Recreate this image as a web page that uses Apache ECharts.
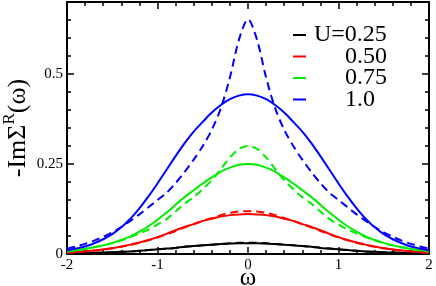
<!DOCTYPE html>
<html>
<head>
<meta charset="utf-8">
<script src="https://cdn.jsdelivr.net/npm/echarts@6/dist/echarts.min.js"></script>
<style>
html,body{margin:0;padding:0;background:#fff;}
#chart{width:436px;height:286px;}
</style>
</head>
<body>
<div id="chart"></div>
<script>
// omega grid, -2 .. 2 step 0.1
const omega = [-2.0,-1.9,-1.8,-1.7,-1.6,-1.5,-1.4,-1.3,-1.2,-1.1,-1.0,-0.9,-0.8,-0.7,-0.6,-0.5,-0.4,-0.3,-0.2,-0.1,0.0,
  0.1,0.2,0.3,0.4,0.5,0.6,0.7,0.8,0.9,1.0,1.1,1.2,1.3,1.4,1.5,1.6,1.7,1.8,1.9,2.0];

const legendNames = ['U=0.25', '0.50', '0.75', '1.0'];
const seriesColors = ['#000000', '#ff0000', '#00ee00', '#0000ff'];

// solid curves
const u025Solid = [0.001,0.002,0.002,0.003,0.004,0.005,0.006,0.007,0.009,0.011,0.013,0.015,0.017,0.020,0.022,0.024,0.026,0.028,0.029,0.030,0.030,
  0.030,0.029,0.028,0.026,0.024,0.022,0.020,0.017,0.015,0.013,0.011,0.009,0.007,0.006,0.005,0.004,0.003,0.002,0.002,0.001];
const u050Solid = [0.004,0.006,0.008,0.010,0.013,0.016,0.021,0.026,0.032,0.039,0.047,0.056,0.066,0.075,0.083,0.092,0.098,0.104,0.108,0.110,0.111,
  0.110,0.108,0.104,0.098,0.092,0.083,0.075,0.066,0.056,0.047,0.039,0.032,0.026,0.021,0.016,0.013,0.010,0.008,0.006,0.004];
const u075Solid = [0.008,0.011,0.014,0.019,0.024,0.031,0.039,0.049,0.062,0.077,0.095,0.115,0.137,0.158,0.177,0.196,0.213,0.229,0.240,0.248,0.250,
  0.248,0.240,0.229,0.213,0.196,0.177,0.158,0.137,0.115,0.095,0.077,0.062,0.049,0.039,0.031,0.024,0.019,0.014,0.011,0.008];
const u100Solid = [0.010,0.015,0.021,0.030,0.041,0.055,0.074,0.098,0.127,0.160,0.196,0.234,0.272,0.308,0.340,0.367,0.393,0.414,0.430,0.440,0.444,
  0.440,0.430,0.414,0.393,0.367,0.340,0.308,0.272,0.234,0.196,0.160,0.127,0.098,0.074,0.055,0.041,0.030,0.021,0.015,0.010];

// dashed curves
const u025Dashed = [0.001,0.002,0.002,0.003,0.004,0.005,0.006,0.007,0.009,0.011,0.013,0.015,0.017,0.020,0.022,0.024,0.026,0.028,0.030,0.031,0.031,
  0.031,0.030,0.028,0.026,0.024,0.022,0.020,0.017,0.015,0.013,0.011,0.009,0.007,0.006,0.005,0.004,0.003,0.002,0.002,0.001];
const u050Dashed = [0.004,0.005,0.007,0.009,0.012,0.016,0.020,0.025,0.031,0.038,0.046,0.055,0.064,0.074,0.083,0.092,0.100,0.108,0.114,0.118,0.119,
  0.118,0.114,0.108,0.100,0.092,0.083,0.074,0.064,0.055,0.046,0.038,0.031,0.025,0.020,0.016,0.012,0.009,0.007,0.005,0.004];
const u075Dashed = [0.007,0.010,0.014,0.019,0.024,0.030,0.038,0.047,0.057,0.068,0.082,0.097,0.118,0.140,0.158,0.180,0.205,0.236,0.268,0.292,0.300,
  0.292,0.268,0.236,0.205,0.180,0.158,0.140,0.118,0.097,0.082,0.068,0.057,0.047,0.038,0.030,0.024,0.019,0.014,0.010,0.007];
const u100Dashed = [0.015,0.021,0.028,0.037,0.048,0.060,0.075,0.092,0.110,0.130,0.150,0.170,0.197,0.228,0.262,0.300,0.345,0.405,0.490,0.595,0.652,
  0.595,0.490,0.405,0.345,0.300,0.262,0.228,0.197,0.170,0.150,0.130,0.110,0.092,0.075,0.060,0.048,0.037,0.028,0.021,0.015];

const xTicks = [-2, -1, 0, 1, 2];
const yTicks = [0, 0.25, 0.5];

const FONT = "'Liberation Serif', 'Times New Roman', serif";
const solids = [u025Solid, u050Solid, u075Solid, u100Solid];
const dashes = [u025Dashed, u050Dashed, u075Dashed, u100Dashed];
const pairs = ys => omega.map((x, i) => [x, ys[i]]);

const series = [];
for (let k = 0; k < 4; k++) {
  series.push({
    name: legendNames[k], type: 'line', data: pairs(solids[k]), smooth: 0.3,
    showSymbol: false, symbol: 'none', color: seriesColors[k],
    lineStyle: {color: seriesColors[k], width: 2}, z: 3
  });
  series.push({
    name: legendNames[k] + ' dashed', type: 'line', data: pairs(dashes[k]), smooth: 0.3,
    showSymbol: false, symbol: 'none', color: seriesColors[k],
    lineStyle: {color: seriesColors[k], width: 2, type: [8, 5]}, z: 3
  });
}

const axLine = {show: true, onZero: false, lineStyle: {color: '#000', width: 2}};
const baseX = {
  type: 'value', min: -2, max: 2, interval: 1,
  axisLine: axLine, splitLine: {show: false},
  axisTick: {show: true, inside: true, length: 7, lineStyle: {color: '#000', width: 1.5}},
  minorTick: {show: true, splitNumber: 5, length: 4, lineStyle: {color: '#000', width: 1.5}},
  minorSplitLine: {show: false}
};
const baseYMajor = {
  type: 'value', min: 0, max: 0.7, interval: 0.25,
  axisLine: axLine, splitLine: {show: false},
  axisTick: {show: true, inside: true, length: 7, lineStyle: {color: '#000', width: 1.5}}
};
const baseYMinor = {
  type: 'value', min: 0, max: 0.7, interval: 0.05,
  axisLine: {show: false, onZero: false}, splitLine: {show: false},
  axisTick: {show: true, inside: true, length: 4, lineStyle: {color: '#000', width: 1.5}},
  axisLabel: {show: false}
};

const chart = echarts.init(document.getElementById('chart'), null, {renderer: 'canvas'});
chart.setOption({
  animation: false,
  backgroundColor: '#fff',
  grid: {left: 67, right: 7, top: 2, bottom: 32, containLabel: false, outerBoundsMode: 'none'},
  legend: {
    orient: 'vertical', left: 293, top: 23, itemWidth: 13, itemHeight: 2, itemGap: -2.5, padding: 0,
    icon: 'rect', selectedMode: false, data: legendNames,
    formatter: n => n.startsWith('U') ? n : '{pad|}' + n,
    textStyle: {fontFamily: FONT, fontSize: 24, lineHeight: 21, color: '#000', padding: [0, 0, 0, 3],
      rich: {pad: {width: 31, fontSize: 24, lineHeight: 21}}}
  },
  xAxis: [
    Object.assign({}, baseX, {
      position: 'bottom', name: 'ω', nameLocation: 'middle', nameGap: 12, nameMoveOverlap: false,
      nameTextStyle: {fontFamily: FONT, fontSize: 25, color: '#000', lineHeight: 25},
      axisLabel: {show: true, fontFamily: FONT, fontSize: 15, color: '#000', margin: 4,
        formatter: v => xTicks.includes(v) ? String(v) : ''}
    }),
    Object.assign({}, baseX, {position: 'top', axisLabel: {show: false}})
  ],
  yAxis: [
    Object.assign({}, baseYMajor, {
      position: 'left', name: '{m|-ImΣ}{sup|R}{m|(ω)}', nameLocation: 'middle', nameRotate: 90, nameGap: 36,
      nameMoveOverlap: false,
      nameTextStyle: {fontFamily: FONT, fontSize: 26, color: '#000',
        rich: {m: {fontFamily: FONT, fontSize: 26, color: '#000', lineHeight: 30, verticalAlign: 'bottom'},
               sup: {fontFamily: FONT, fontSize: 17, color: '#000', lineHeight: 30, verticalAlign: 'top'}}},
      axisLabel: {show: true, fontFamily: FONT, fontSize: 15, color: '#000', margin: 4, showMaxLabel: false,
        formatter: v => yTicks.includes(v) ? String(v) : ''}
    }),
    Object.assign({}, baseYMinor, {position: 'left'}),
    Object.assign({}, baseYMajor, {position: 'right', axisLabel: {show: false}}),
    Object.assign({}, baseYMinor, {position: 'right'})
  ],
  series: series
});
</script>
</body>
</html>
